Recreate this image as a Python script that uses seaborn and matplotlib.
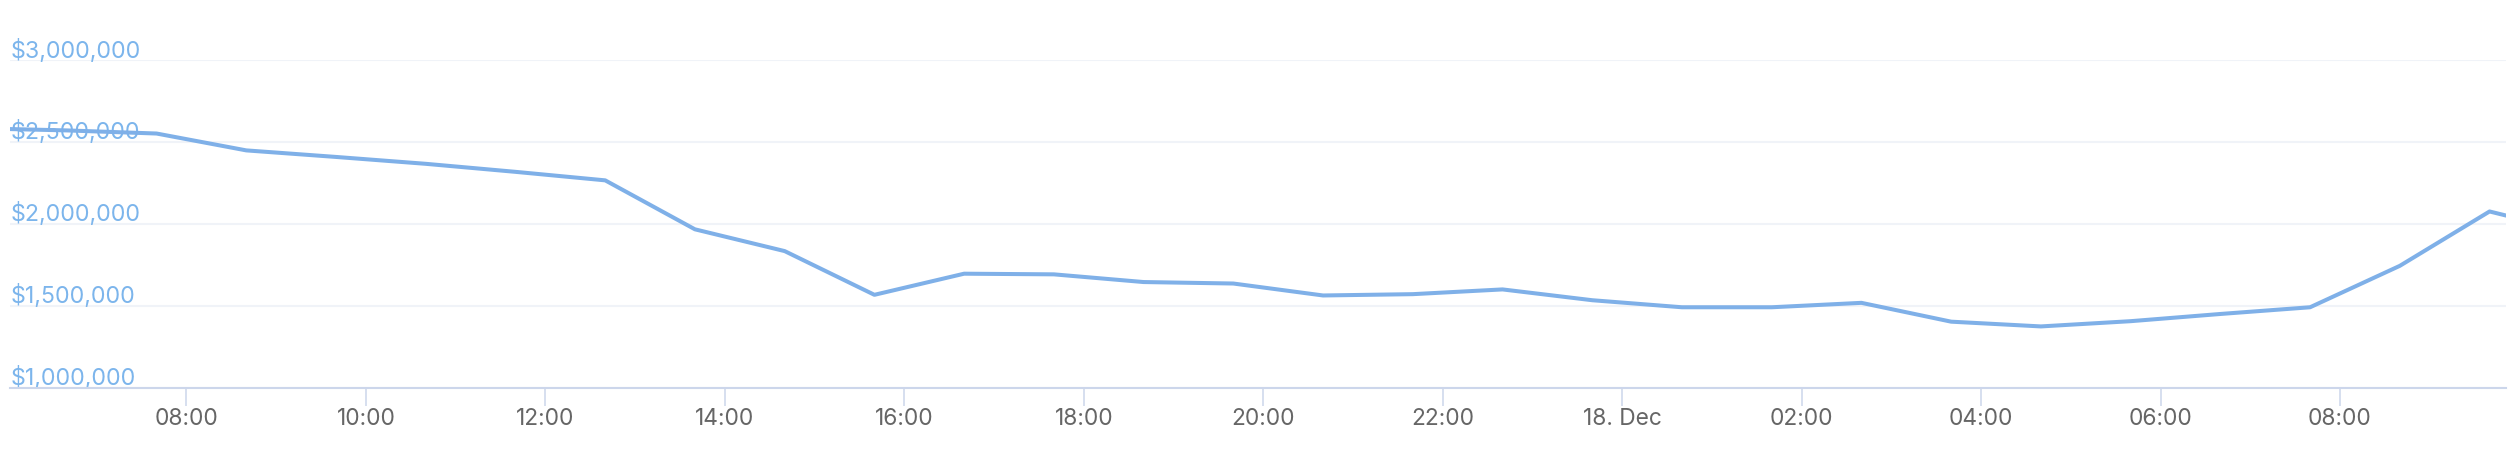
import pandas as pd
import seaborn as sns
import matplotlib.pyplot as plt
import matplotlib.dates as mdates
import matplotlib.transforms as mtransforms

# hourly values (first and last points sit just outside the view)
times = pd.date_range("2023-12-17 05:40", "2023-12-18 10:40", freq="h")
values = [2583000, 2570000, 2551000, 2448000, 2408000, 2366000, 2317000, 2265000,
          1966000, 1833000, 1566000, 1695000, 1691000, 1644000, 1635000, 1562000,
          1570000, 1599000, 1533000, 1490000, 1490000, 1517000, 1402000, 1373000,
          1405000, 1449000, 1490000, 1743000, 2075000, 1940000]
y_ticks = [1000000, 1500000, 2000000, 2500000, 3000000]
y_labels = ["$1,000,000", "$1,500,000", "$2,000,000", "$2,500,000", "$3,000,000"]

df = pd.DataFrame({"time": times, "value": values})

sns.set_theme(style="white")
plt.rcParams["font.family"] = ["Inter", "DejaVu Sans"]

line_color = "#7fb0e8"
grid_color = "#f0f3f8"
axis_color = "#ccd6eb"

fig = plt.figure(figsize=(25.2, 4.52), dpi=100)
ax = fig.add_axes([10 / 2520, 63.5 / 452, 2496 / 2520, 327.5 / 452])

sns.lineplot(data=df, x="time", y="value", ax=ax, color=line_color, linewidth=2.9, zorder=3)

ax.set_xlim(pd.Timestamp("2023-12-17 06:02"), pd.Timestamp("2023-12-18 09:51"))
ax.set_ylim(y_ticks[0], y_ticks[-1])
ax.set_xlabel("")
ax.set_ylabel("")

# y grid + labels sitting above the lines, inside the plot
ax.set_yticks(y_ticks)
ax.set_yticklabels([])
ax.tick_params(axis="y", length=0)
ax.grid(axis="y", color=grid_color, linewidth=1.5)
ax.grid(axis="x", visible=False)
lab_tr = mtransforms.offset_copy(ax.get_yaxis_transform(), fig=fig, x=1, y=3.5, units="dots")
for v, lab in zip(y_ticks, y_labels):
    ax.text(0, v, lab, transform=lab_tr, ha="left", va="baseline",
            color="#7cb5ec", fontsize=16.7, zorder=2)

# x axis: every 2 hours, day name at midnight
def fmt_time(x, pos=None):
    d = mdates.num2date(x)
    if d.hour == 0 and d.minute == 0:
        return d.strftime("%d. %b").lstrip("0")
    return d.strftime("%H:%M")

ax.xaxis.set_major_locator(mdates.HourLocator(byhour=range(0, 24, 2)))
ax.xaxis.set_major_formatter(plt.FuncFormatter(fmt_time))
ax.tick_params(axis="x", direction="out", length=13, width=1.1, color=axis_color,
               labelcolor="#666666", labelsize=16.4, pad=1, bottom=True)

for s in ["top", "right", "left"]:
    ax.spines[s].set_visible(False)
ax.spines["bottom"].set_color(axis_color)
ax.spines["bottom"].set_linewidth(1.5)

fig.savefig("out.png", dpi=100)
